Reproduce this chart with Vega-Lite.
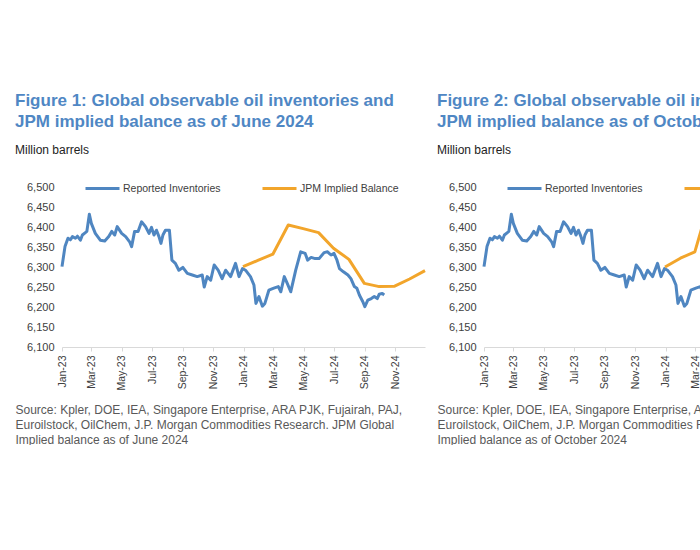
{
  "$schema": "https://vega.github.io/schema/vega-lite/v6.json",
  "background": "white",
  "padding": {"left": 15, "top": 92, "right": 0, "bottom": 0},
  "spacing": 10,
  "config": {
    "font": "Liberation Sans",
    "view": {"stroke": null},
    "axis": {"labelOverlap": false},
    "legend": {
      "orient": "none", "legendX": 22, "legendY": -17, "direction": "horizontal",
      "symbolType": "stroke", "symbolSize": 1156, "symbolStrokeWidth": 3,
      "labelFontSize": 10.5, "labelColor": "#404040", "columnPadding": 40, "labelOffset": 2
    },
    "title": {
      "anchor": "start", "frame": "group", "dx": -47, "fontSize": 17, "fontWeight": "bold",
      "color": "#4f87c4", "lineHeight": 21, "subtitleFontSize": 12, "subtitleColor": "#222222",
      "subtitlePadding": 14, "offset": 13
    },
    "line": {"strokeWidth": 3, "strokeJoin": "round"}
  },
  "resolve": {"scale": {"color": "independent"}},
  "datasets": {
    "inv": [
      {"date": "2023-01-01", "v": 6301}, {"date": "2023-01-07", "v": 6351}, {"date": "2023-01-13", "v": 6372},
      {"date": "2023-01-18", "v": 6368}, {"date": "2023-01-22", "v": 6376}, {"date": "2023-01-28", "v": 6372},
      {"date": "2023-02-01", "v": 6377}, {"date": "2023-02-07", "v": 6367}, {"date": "2023-02-11", "v": 6380},
      {"date": "2023-02-17", "v": 6386}, {"date": "2023-02-20", "v": 6389}, {"date": "2023-02-25", "v": 6432},
      {"date": "2023-03-01", "v": 6409}, {"date": "2023-03-09", "v": 6384}, {"date": "2023-03-19", "v": 6367},
      {"date": "2023-03-28", "v": 6365}, {"date": "2023-04-05", "v": 6376}, {"date": "2023-04-11", "v": 6389},
      {"date": "2023-04-17", "v": 6380}, {"date": "2023-04-22", "v": 6401}, {"date": "2023-05-01", "v": 6384},
      {"date": "2023-05-09", "v": 6376}, {"date": "2023-05-17", "v": 6363}, {"date": "2023-05-21", "v": 6351},
      {"date": "2023-05-27", "v": 6389}, {"date": "2023-06-03", "v": 6389}, {"date": "2023-06-10", "v": 6413},
      {"date": "2023-06-18", "v": 6401}, {"date": "2023-06-25", "v": 6384}, {"date": "2023-06-30", "v": 6399},
      {"date": "2023-07-05", "v": 6380}, {"date": "2023-07-10", "v": 6392}, {"date": "2023-07-15", "v": 6376},
      {"date": "2023-07-19", "v": 6359}, {"date": "2023-07-23", "v": 6380}, {"date": "2023-07-28", "v": 6392},
      {"date": "2023-08-05", "v": 6392}, {"date": "2023-08-10", "v": 6317}, {"date": "2023-08-17", "v": 6309},
      {"date": "2023-08-24", "v": 6292}, {"date": "2023-09-01", "v": 6299}, {"date": "2023-09-10", "v": 6284},
      {"date": "2023-09-20", "v": 6280}, {"date": "2023-09-30", "v": 6276}, {"date": "2023-10-10", "v": 6280},
      {"date": "2023-10-14", "v": 6250}, {"date": "2023-10-20", "v": 6276}, {"date": "2023-10-27", "v": 6267},
      {"date": "2023-11-03", "v": 6305}, {"date": "2023-11-11", "v": 6292}, {"date": "2023-11-19", "v": 6271},
      {"date": "2023-11-26", "v": 6292}, {"date": "2023-12-06", "v": 6276}, {"date": "2023-12-16", "v": 6309},
      {"date": "2023-12-23", "v": 6276}, {"date": "2023-12-30", "v": 6296}, {"date": "2024-01-05", "v": 6292},
      {"date": "2024-01-15", "v": 6276}, {"date": "2024-01-22", "v": 6255}, {"date": "2024-01-26", "v": 6209},
      {"date": "2024-02-01", "v": 6226}, {"date": "2024-02-08", "v": 6202}, {"date": "2024-02-13", "v": 6209},
      {"date": "2024-02-21", "v": 6242}, {"date": "2024-03-02", "v": 6247}, {"date": "2024-03-11", "v": 6251},
      {"date": "2024-03-16", "v": 6238}, {"date": "2024-03-23", "v": 6276}, {"date": "2024-03-29", "v": 6259},
      {"date": "2024-04-05", "v": 6238}, {"date": "2024-04-15", "v": 6292}, {"date": "2024-04-25", "v": 6338},
      {"date": "2024-05-04", "v": 6334}, {"date": "2024-05-09", "v": 6317}, {"date": "2024-05-16", "v": 6324},
      {"date": "2024-05-24", "v": 6321}, {"date": "2024-06-01", "v": 6321}, {"date": "2024-06-11", "v": 6336},
      {"date": "2024-06-18", "v": 6338}, {"date": "2024-06-25", "v": 6330}, {"date": "2024-07-01", "v": 6334},
      {"date": "2024-07-07", "v": 6317}, {"date": "2024-07-12", "v": 6296}, {"date": "2024-07-20", "v": 6288},
      {"date": "2024-07-29", "v": 6280}, {"date": "2024-08-04", "v": 6271}, {"date": "2024-08-11", "v": 6251},
      {"date": "2024-08-16", "v": 6247}, {"date": "2024-08-21", "v": 6230}, {"date": "2024-08-28", "v": 6213},
      {"date": "2024-09-01", "v": 6201}, {"date": "2024-09-07", "v": 6217}, {"date": "2024-09-14", "v": 6221},
      {"date": "2024-09-20", "v": 6226}, {"date": "2024-09-26", "v": 6221}, {"date": "2024-09-30", "v": 6232},
      {"date": "2024-10-06", "v": 6234}, {"date": "2024-10-10", "v": 6230}
    ],
    "bal1": [
      {"date": "2023-12-31", "v": 6301}, {"date": "2024-01-31", "v": 6317}, {"date": "2024-02-29", "v": 6332},
      {"date": "2024-03-31", "v": 6405}, {"date": "2024-04-30", "v": 6396}, {"date": "2024-05-31", "v": 6386},
      {"date": "2024-06-30", "v": 6347}, {"date": "2024-07-31", "v": 6319}, {"date": "2024-08-31", "v": 6259},
      {"date": "2024-09-30", "v": 6251}, {"date": "2024-10-31", "v": 6252}, {"date": "2024-11-30", "v": 6270},
      {"date": "2024-12-31", "v": 6291}
    ],
    "bal2": [
      {"date": "2023-12-31", "v": 6300}, {"date": "2024-01-31", "v": 6322}, {"date": "2024-02-29", "v": 6338},
      {"date": "2024-03-31", "v": 6470}, {"date": "2024-04-30", "v": 6440}, {"date": "2024-05-31", "v": 6400},
      {"date": "2024-06-30", "v": 6360}, {"date": "2024-07-31", "v": 6320}, {"date": "2024-08-31", "v": 6280},
      {"date": "2024-09-30", "v": 6260}, {"date": "2024-10-31", "v": 6262}, {"date": "2024-11-30", "v": 6275},
      {"date": "2024-12-31", "v": 6290}
    ]
  },
  "hconcat": [
    {
      "width": 363, "height": 160,
      "title": {
        "text": ["Figure 1: Global observable oil inventories and", "JPM implied balance as of June 2024"],
        "subtitle": "Million barrels"
      },
      "encoding": {
        "x": {
          "field": "date", "type": "temporal",
          "scale": {"type": "utc", "domain": [{"year": 2023, "month": 1, "date": 1, "utc": true}, {"year": 2024, "month": 12, "date": 31, "utc": true}], "nice": false},
          "axis": {
            "title": ["Source: Kpler, DOE, IEA, Singapore Enterprise, ARA PJK, Fujairah, PAJ,", "Euroilstock, OilChem, J.P. Morgan Commodities Research. JPM Global", "Implied balance as of June 2024"],
            "values": [
              {"year": 2023, "month": 1, "date": 1, "utc": true}, {"year": 2023, "month": 3, "date": 1, "utc": true},
              {"year": 2023, "month": 5, "date": 1, "utc": true}, {"year": 2023, "month": 7, "date": 1, "utc": true},
              {"year": 2023, "month": 9, "date": 1, "utc": true}, {"year": 2023, "month": 11, "date": 1, "utc": true},
              {"year": 2024, "month": 1, "date": 1, "utc": true}, {"year": 2024, "month": 3, "date": 1, "utc": true},
              {"year": 2024, "month": 5, "date": 1, "utc": true}, {"year": 2024, "month": 7, "date": 1, "utc": true},
              {"year": 2024, "month": 9, "date": 1, "utc": true}, {"year": 2024, "month": 11, "date": 1, "utc": true}
            ],
            "format": "%b-%y", "labelAngle": -90, "grid": false,
            "domainColor": "#d9d9d9", "tickColor": "#d9d9d9", "tickSize": 4, "labelPadding": 4,
            "labelFontSize": 10.5, "labelColor": "#404040", "labelFlush": false, "labelOverlap": false,
            "titleX": -47, "titleY": 57, "titleAlign": "left", "titleAnchor": "start", "titleBaseline": "top",
            "titleFontWeight": "normal", "titleFontSize": 12, "titleColor": "#595959", "titleLineHeight": 15
          }
        },
        "y": {
          "field": "v", "type": "quantitative",
          "scale": {"domain": [6100, 6500], "nice": false, "zero": false},
          "axis": {
            "title": null, "values": [6100, 6150, 6200, 6250, 6300, 6350, 6400, 6450, 6500],
            "format": ",.0f", "domain": false, "ticks": false, "grid": false, "labelPadding": 8,
            "labelFontSize": 11, "labelColor": "#404040", "labelOverlap": false
          }
        }
      },
      "layer": [
        {
          "data": {"name": "inv"},
          "mark": "line",
          "encoding": {
            "color": {
              "datum": "Reported Inventories",
              "scale": {"domain": ["Reported Inventories", "JPM Implied Balance"], "range": ["#4f86c1", "#f2a52b"]},
              "legend": {"title": null}
            }
          }
        },
        {
          "data": {"name": "bal1"},
          "mark": "line",
          "encoding": {"color": {"datum": "JPM Implied Balance"}}
        }
      ]
    },
    {
      "width": 363, "height": 160,
      "title": {
        "text": ["Figure 2: Global observable oil inventories and", "JPM implied balance as of October 2024"],
        "subtitle": "Million barrels"
      },
      "encoding": {
        "x": {
          "field": "date", "type": "temporal",
          "scale": {"type": "utc", "domain": [{"year": 2023, "month": 1, "date": 1, "utc": true}, {"year": 2024, "month": 12, "date": 31, "utc": true}], "nice": false},
          "axis": {
            "title": ["Source: Kpler, DOE, IEA, Singapore Enterprise, ARA PJK, Fujairah, PAJ,", "Euroilstock, OilChem, J.P. Morgan Commodities Research. JPM Global", "Implied balance as of October 2024"],
            "values": [
              {"year": 2023, "month": 1, "date": 1, "utc": true}, {"year": 2023, "month": 3, "date": 1, "utc": true},
              {"year": 2023, "month": 5, "date": 1, "utc": true}, {"year": 2023, "month": 7, "date": 1, "utc": true},
              {"year": 2023, "month": 9, "date": 1, "utc": true}, {"year": 2023, "month": 11, "date": 1, "utc": true},
              {"year": 2024, "month": 1, "date": 1, "utc": true}, {"year": 2024, "month": 3, "date": 1, "utc": true},
              {"year": 2024, "month": 5, "date": 1, "utc": true}, {"year": 2024, "month": 7, "date": 1, "utc": true},
              {"year": 2024, "month": 9, "date": 1, "utc": true}, {"year": 2024, "month": 11, "date": 1, "utc": true}
            ],
            "format": "%b-%y", "labelAngle": -90, "grid": false,
            "domainColor": "#d9d9d9", "tickColor": "#d9d9d9", "tickSize": 4, "labelPadding": 4,
            "labelFontSize": 10.5, "labelColor": "#404040", "labelFlush": false, "labelOverlap": false,
            "titleX": -47, "titleY": 57, "titleAlign": "left", "titleAnchor": "start", "titleBaseline": "top",
            "titleFontWeight": "normal", "titleFontSize": 12, "titleColor": "#595959", "titleLineHeight": 15
          }
        },
        "y": {
          "field": "v", "type": "quantitative",
          "scale": {"domain": [6100, 6500], "nice": false, "zero": false},
          "axis": {
            "title": null, "values": [6100, 6150, 6200, 6250, 6300, 6350, 6400, 6450, 6500],
            "format": ",.0f", "domain": false, "ticks": false, "grid": false, "labelPadding": 8,
            "labelFontSize": 11, "labelColor": "#404040", "labelOverlap": false
          }
        }
      },
      "layer": [
        {
          "data": {"name": "inv"},
          "mark": "line",
          "encoding": {
            "color": {
              "datum": "Reported Inventories",
              "scale": {"domain": ["Reported Inventories", "JPM Implied Balance"], "range": ["#4f86c1", "#f2a52b"]},
              "legend": {"title": null}
            }
          }
        },
        {
          "data": {"name": "bal2"},
          "mark": "line",
          "encoding": {"color": {"datum": "JPM Implied Balance"}}
        }
      ]
    }
  ]
}
